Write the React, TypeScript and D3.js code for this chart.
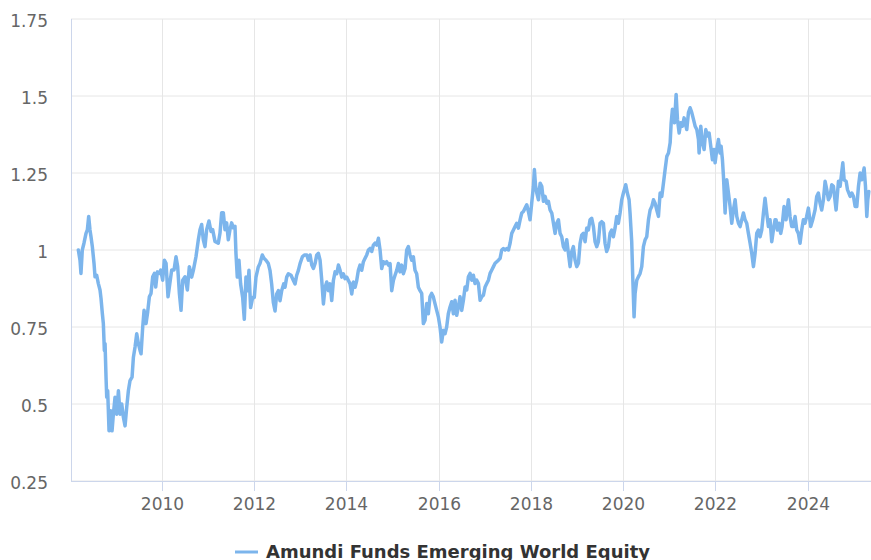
import React from "react";
import * as d3 from "d3";

// Decimal year, fund value
const navPoints: [number, number][] = [
  [2008.194, 1.0], [2008.23, 0.967], [2008.251, 0.924], [2008.28, 1.0], [2008.316, 1.022],
  [2008.36, 1.054], [2008.389, 1.065], [2008.418, 1.109], [2008.446, 1.065], [2008.468, 1.043],
  [2008.497, 1.011], [2008.533, 0.957], [2008.555, 0.913], [2008.591, 0.918], [2008.627, 0.891],
  [2008.663, 0.87], [2008.685, 0.842], [2008.714, 0.793], [2008.735, 0.761], [2008.757, 0.674],
  [2008.772, 0.696], [2008.793, 0.587], [2008.808, 0.522], [2008.829, 0.543], [2008.858, 0.413],
  [2008.894, 0.478], [2008.923, 0.413], [2008.952, 0.467], [2008.988, 0.522], [2009.024, 0.467],
  [2009.061, 0.543], [2009.097, 0.467], [2009.133, 0.5], [2009.169, 0.457], [2009.205, 0.429],
  [2009.241, 0.489], [2009.277, 0.543], [2009.313, 0.576], [2009.357, 0.587], [2009.386, 0.652],
  [2009.422, 0.685], [2009.458, 0.728], [2009.494, 0.696], [2009.53, 0.674], [2009.552, 0.663],
  [2009.588, 0.75], [2009.617, 0.804], [2009.66, 0.761], [2009.696, 0.799], [2009.732, 0.848],
  [2009.768, 0.859], [2009.805, 0.913], [2009.841, 0.924], [2009.87, 0.88], [2009.906, 0.929],
  [2009.949, 0.924], [2009.978, 0.935], [2010.021, 0.902], [2010.057, 0.967], [2010.094, 0.957],
  [2010.137, 0.848], [2010.166, 0.88], [2010.216, 0.935], [2010.267, 0.935], [2010.31, 0.978],
  [2010.346, 0.946], [2010.383, 0.859], [2010.419, 0.804], [2010.455, 0.902], [2010.505, 0.913],
  [2010.556, 0.87], [2010.599, 0.946], [2010.65, 0.912], [2010.686, 0.934], [2010.743, 0.978],
  [2010.794, 1.033], [2010.83, 1.066], [2010.866, 1.083], [2010.902, 1.033], [2010.938, 1.011],
  [2010.975, 1.066], [2011.025, 1.094], [2011.069, 1.06], [2011.105, 1.066], [2011.155, 1.028],
  [2011.227, 1.022], [2011.264, 1.055], [2011.3, 1.121], [2011.336, 1.121], [2011.372, 1.066],
  [2011.408, 1.088], [2011.444, 1.033], [2011.48, 1.066], [2011.516, 1.088], [2011.553, 1.072],
  [2011.589, 1.077], [2011.61, 0.989], [2011.639, 0.912], [2011.675, 0.967], [2011.711, 0.89],
  [2011.755, 0.846], [2011.791, 0.775], [2011.827, 0.912], [2011.863, 0.868], [2011.892, 0.934],
  [2011.928, 0.813], [2011.972, 0.846], [2012.008, 0.846], [2012.044, 0.912], [2012.094, 0.945],
  [2012.13, 0.956], [2012.181, 0.984], [2012.217, 0.973], [2012.26, 0.967], [2012.311, 0.956],
  [2012.347, 0.934], [2012.383, 0.89], [2012.419, 0.83], [2012.456, 0.802], [2012.492, 0.857],
  [2012.528, 0.868], [2012.564, 0.835], [2012.6, 0.868], [2012.643, 0.89], [2012.672, 0.879],
  [2012.708, 0.912], [2012.744, 0.923], [2012.802, 0.918], [2012.853, 0.901], [2012.889, 0.89],
  [2012.925, 0.918], [2012.961, 0.934], [2012.997, 0.956], [2013.048, 0.978], [2013.091, 0.984],
  [2013.143, 0.984], [2013.179, 0.967], [2013.215, 0.984], [2013.251, 0.951], [2013.287, 0.94],
  [2013.323, 0.956], [2013.359, 0.984], [2013.395, 0.989], [2013.431, 0.967], [2013.468, 0.901],
  [2013.504, 0.825], [2013.54, 0.879], [2013.576, 0.896], [2013.612, 0.868], [2013.648, 0.89],
  [2013.684, 0.836], [2013.72, 0.901], [2013.757, 0.929], [2013.793, 0.923], [2013.829, 0.951],
  [2013.865, 0.934], [2013.901, 0.912], [2013.937, 0.923], [2013.973, 0.907], [2014.009, 0.912],
  [2014.046, 0.901], [2014.082, 0.89], [2014.118, 0.857], [2014.154, 0.896], [2014.19, 0.879],
  [2014.226, 0.901], [2014.262, 0.934], [2014.298, 0.951], [2014.334, 0.934], [2014.371, 0.962],
  [2014.407, 0.973], [2014.443, 0.984], [2014.479, 1.0], [2014.515, 1.005], [2014.551, 0.995],
  [2014.587, 1.016], [2014.623, 1.022], [2014.66, 1.016], [2014.696, 1.038], [2014.732, 1.0],
  [2014.768, 0.94], [2014.804, 0.962], [2014.84, 0.956], [2014.876, 0.962], [2014.912, 0.951],
  [2014.949, 0.956], [2014.985, 0.868], [2015.021, 0.901], [2015.057, 0.918], [2015.093, 0.934],
  [2015.129, 0.956], [2015.165, 0.929], [2015.201, 0.951], [2015.237, 0.923], [2015.274, 0.94],
  [2015.31, 1.0], [2015.346, 1.011], [2015.382, 0.984], [2015.418, 0.967], [2015.454, 0.978],
  [2015.49, 0.934], [2015.526, 0.923], [2015.563, 0.879], [2015.599, 0.868], [2015.635, 0.859],
  [2015.671, 0.761], [2015.707, 0.772], [2015.743, 0.826], [2015.779, 0.793], [2015.815, 0.848],
  [2015.851, 0.859], [2015.887, 0.848], [2015.923, 0.826], [2015.96, 0.804], [2015.996, 0.783],
  [2016.032, 0.75], [2016.068, 0.701], [2016.104, 0.739], [2016.14, 0.728], [2016.176, 0.75],
  [2016.212, 0.793], [2016.249, 0.815], [2016.285, 0.832], [2016.321, 0.793], [2016.357, 0.837],
  [2016.393, 0.788], [2016.429, 0.815], [2016.465, 0.848], [2016.501, 0.804], [2016.538, 0.837],
  [2016.574, 0.88], [2016.61, 0.87], [2016.646, 0.913], [2016.682, 0.924], [2016.718, 0.902],
  [2016.754, 0.918], [2016.79, 0.891], [2016.826, 0.902], [2016.863, 0.891], [2016.899, 0.837],
  [2016.935, 0.848], [2016.971, 0.853], [2017.007, 0.88], [2017.043, 0.891], [2017.079, 0.902],
  [2017.115, 0.924], [2017.152, 0.935], [2017.188, 0.946], [2017.224, 0.957], [2017.26, 0.962],
  [2017.296, 0.967], [2017.332, 0.973], [2017.368, 1.0], [2017.404, 1.005], [2017.441, 1.0],
  [2017.477, 1.005], [2017.513, 1.0], [2017.549, 1.022], [2017.585, 1.054], [2017.621, 1.065],
  [2017.657, 1.076], [2017.693, 1.087], [2017.729, 1.071], [2017.766, 1.098], [2017.802, 1.12],
  [2017.838, 1.125], [2017.874, 1.136], [2017.91, 1.147], [2017.946, 1.125], [2017.982, 1.098],
  [2018.018, 1.152], [2018.055, 1.207], [2018.076, 1.261], [2018.1, 1.21], [2018.128, 1.185],
  [2018.164, 1.163], [2018.2, 1.217], [2018.236, 1.207], [2018.272, 1.158], [2018.308, 1.174],
  [2018.344, 1.152], [2018.38, 1.158], [2018.416, 1.13], [2018.453, 1.12], [2018.489, 1.087],
  [2018.525, 1.054], [2018.561, 1.087], [2018.597, 1.098], [2018.633, 1.054], [2018.669, 1.043],
  [2018.705, 1.011], [2018.742, 1.0], [2018.778, 1.033], [2018.814, 0.989], [2018.85, 0.946],
  [2018.886, 0.995], [2018.922, 1.011], [2018.958, 0.967], [2018.994, 0.946], [2019.031, 0.957],
  [2019.067, 1.022], [2019.103, 1.049], [2019.139, 1.054], [2019.175, 1.027], [2019.211, 1.071],
  [2019.247, 1.065], [2019.283, 1.098], [2019.319, 1.103], [2019.356, 1.076], [2019.392, 1.027],
  [2019.428, 1.011], [2019.464, 1.027], [2019.5, 1.087], [2019.536, 1.092], [2019.572, 1.087],
  [2019.608, 1.022], [2019.644, 0.995], [2019.681, 1.011], [2019.717, 1.054], [2019.753, 1.065],
  [2019.789, 1.043], [2019.825, 1.071], [2019.861, 1.109], [2019.897, 1.087], [2019.934, 1.12],
  [2019.97, 1.163], [2020.006, 1.185], [2020.056, 1.212], [2020.092, 1.185], [2020.129, 1.163],
  [2020.15, 1.12], [2020.186, 1.027], [2020.208, 0.913], [2020.237, 0.783], [2020.259, 0.859],
  [2020.295, 0.902], [2020.331, 0.913], [2020.367, 0.924], [2020.403, 0.946], [2020.439, 1.011],
  [2020.475, 1.033], [2020.511, 1.043], [2020.548, 1.098], [2020.584, 1.13], [2020.62, 1.141],
  [2020.656, 1.163], [2020.692, 1.152], [2020.728, 1.13], [2020.764, 1.109], [2020.8, 1.185],
  [2020.836, 1.174], [2020.872, 1.217], [2020.908, 1.261], [2020.945, 1.304], [2020.981, 1.315],
  [2021.017, 1.348], [2021.039, 1.413], [2021.067, 1.457], [2021.111, 1.413], [2021.147, 1.505],
  [2021.176, 1.424], [2021.212, 1.38], [2021.248, 1.413], [2021.284, 1.402], [2021.32, 1.429],
  [2021.342, 1.413], [2021.378, 1.391], [2021.414, 1.446], [2021.45, 1.462], [2021.486, 1.446],
  [2021.523, 1.424], [2021.559, 1.402], [2021.595, 1.391], [2021.631, 1.359], [2021.645, 1.315],
  [2021.681, 1.402], [2021.718, 1.348], [2021.754, 1.326], [2021.79, 1.391], [2021.826, 1.37],
  [2021.862, 1.38], [2021.898, 1.337], [2021.934, 1.293], [2021.97, 1.326], [2021.992, 1.283],
  [2022.028, 1.326], [2022.064, 1.359], [2022.1, 1.315], [2022.122, 1.337], [2022.151, 1.293],
  [2022.173, 1.239], [2022.209, 1.12], [2022.245, 1.228], [2022.281, 1.185], [2022.317, 1.141],
  [2022.353, 1.087], [2022.389, 1.13], [2022.426, 1.163], [2022.462, 1.109], [2022.498, 1.087],
  [2022.534, 1.076], [2022.57, 1.098], [2022.606, 1.12], [2022.642, 1.098], [2022.678, 1.087],
  [2022.714, 1.054], [2022.751, 1.022], [2022.787, 0.989], [2022.823, 0.946], [2022.859, 0.989],
  [2022.895, 1.054], [2022.931, 1.065], [2022.967, 1.043], [2023.003, 1.065], [2023.04, 1.12],
  [2023.075, 1.168], [2023.111, 1.12], [2023.148, 1.076], [2023.184, 1.098], [2023.22, 1.027],
  [2023.256, 1.065], [2023.292, 1.098], [2023.314, 1.098], [2023.343, 1.065], [2023.379, 1.087],
  [2023.415, 1.054], [2023.444, 1.076], [2023.487, 1.141], [2023.53, 1.098], [2023.581, 1.163],
  [2023.617, 1.109], [2023.653, 1.076], [2023.689, 1.076], [2023.726, 1.109], [2023.762, 1.065],
  [2023.798, 1.054], [2023.834, 1.022], [2023.87, 1.065], [2023.906, 1.098], [2023.942, 1.087],
  [2023.978, 1.109], [2024.015, 1.136], [2024.065, 1.076], [2024.108, 1.098], [2024.159, 1.13],
  [2024.195, 1.174], [2024.231, 1.185], [2024.267, 1.152], [2024.303, 1.13], [2024.34, 1.163],
  [2024.376, 1.223], [2024.412, 1.196], [2024.448, 1.163], [2024.484, 1.174], [2024.52, 1.212],
  [2024.556, 1.207], [2024.614, 1.13], [2024.665, 1.223], [2024.701, 1.207], [2024.759, 1.283],
  [2024.788, 1.228], [2024.831, 1.223], [2024.86, 1.196], [2024.918, 1.174], [2024.954, 1.185],
  [2024.99, 1.174], [2025.026, 1.141], [2025.062, 1.141], [2025.098, 1.207], [2025.134, 1.25],
  [2025.17, 1.228], [2025.221, 1.266], [2025.25, 1.207], [2025.279, 1.109], [2025.3, 1.163],
  [2025.322, 1.19],
];

const yTicks = [0.25, 0.5, 0.75, 1, 1.25, 1.5, 1.75];
const xTickYears = [2010, 2012, 2014, 2016, 2018, 2020, 2022, 2024];
const seriesName = "Amundi Funds Emerging World Equity";

const W = 871;
const H = 560;
const FONT = "'DejaVu Sans', sans-serif";

function decYearToDate(y: number): Date {
  const yr = Math.floor(y);
  const a = Date.UTC(yr, 0, 1);
  const b = Date.UTC(yr + 1, 0, 1);
  return new Date(a + (y - yr) * (b - a));
}

export default function App() {
  const left = 71;
  const right = 871;
  const top = 19;
  const bottom = 481;

  const x = d3
    .scaleUtc()
    .domain([new Date(Date.UTC(2008, 0, 14)), new Date(Date.UTC(2025, 4, 16))])
    .range([left, right]);
  const y = d3.scaleLinear().domain([0.25, 1.75]).range([bottom, top]);

  const data = navPoints
    .map(([t, v]) => ({ d: decYearToDate(t), v }))
    .sort((a, b) => +a.d - +b.d);

  const line = d3
    .line<{ d: Date; v: number }>()
    .x((p) => x(p.d))
    .y((p) => y(p.v));

  return (
    <svg
      width={W}
      height={H}
      style={{ position: "absolute", left: 0, top: 0, background: "#fff" }}
      fontFamily={FONT}
    >
      <rect x={0} y={0} width={W} height={H} fill="#ffffff" />
      {yTicks.map((t) => (
        <line key={"gy" + t} x1={left} x2={right} y1={y(t)} y2={y(t)} stroke="#e6e6e6" strokeWidth={1} />
      ))}
      {xTickYears.map((yr) => {
        const px = Math.round(x(new Date(Date.UTC(yr, 0, 1)))) + 0.5;
        return (
          <line key={"gx" + yr} x1={px} x2={px} y1={top} y2={bottom} stroke="#e6e6e6" strokeWidth={1} />
        );
      })}
      <line x1={left + 0.5} x2={left + 0.5} y1={top} y2={bottom} stroke="#ccd6eb" strokeWidth={1} />
      <line x1={left} x2={right} y1={bottom + 0.5} y2={bottom + 0.5} stroke="#ccd6eb" strokeWidth={1} />
      {xTickYears.map((yr) => {
        const px = Math.round(x(new Date(Date.UTC(yr, 0, 1)))) + 0.5;
        return (
          <g key={"tx" + yr}>
            <line x1={px} x2={px} y1={bottom} y2={bottom + 10} stroke="#ccd6eb" strokeWidth={1} />
            <text x={px} y={bottom + 29} textAnchor="middle" fontSize={17} fill="#666666">
              {yr}
            </text>
          </g>
        );
      })}
      {yTicks.map((t) => (
        <text key={"ty" + t} x={48} y={y(t) + 8} textAnchor="end" fontSize={17} fill="#666666">
          {String(t)}
        </text>
      ))}
      <path
        d={line(data) || ""}
        fill="none"
        stroke="#7cb5ec"
        strokeWidth={3.5}
        strokeLinejoin="round"
        strokeLinecap="round"
      />
      <g>
        <line x1={235} x2={258} y1={552} y2={552} stroke="#7cb5ec" strokeWidth={3} />
        <text x={266} y={558} fontSize={18} fontWeight="bold" fill="#333333">
          {seriesName}
        </text>
      </g>
    </svg>
  );
}
